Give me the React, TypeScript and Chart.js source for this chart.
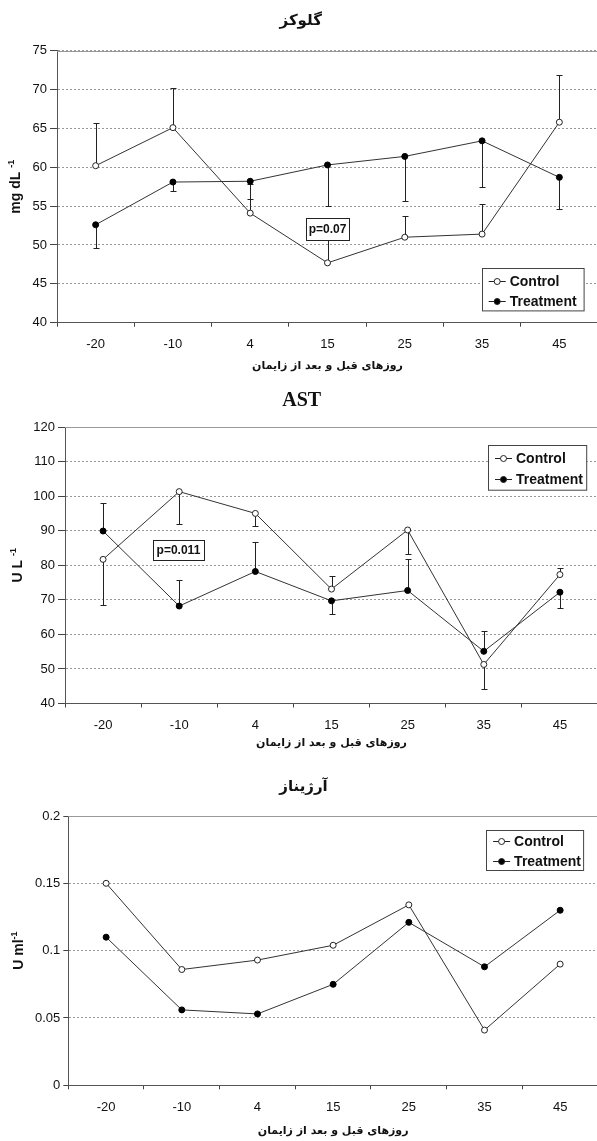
import React, { useEffect, useRef } from "react";
import { Chart, registerables } from "chart.js";
Chart.register(...registerables);

// ---------- data ----------
const days = ["-20", "-10", "4", "15", "25", "35", "45"];

const glucoseControl = [60.2, 65.1, 54.1, 47.7, 51.0, 51.4, 65.8];
const glucoseControlErrEnd = [65.7, 70.2, 57.8, 50.8, 53.7, 55.3, 71.9];
const glucoseTreatment = [52.6, 58.1, 58.2, 60.3, 61.4, 63.4, 58.7];
const glucoseTreatmentErrEnd = [49.6, 56.9, 55.9, 55.0, 55.7, 57.5, 54.6];
const glucoseYTicks = { min: 40, max: 75, step: 5 };

const astControl = [81.7, 101.3, 95.0, 73.1, 90.2, 51.3, 77.3];
const astControlErrEnd = [68.4, 91.8, 91.3, 76.9, 83.2, 44.2, 79.3];
const astTreatment = [89.9, 68.2, 78.2, 69.7, 72.7, 55.1, 72.2];
const astTreatmentErrEnd = [98.0, 75.6, 86.8, 65.9, 81.8, 61.1, 67.5];
const astYTicks = { min: 40, max: 120, step: 10 };

const argControl = [0.15, 0.086, 0.093, 0.104, 0.134, 0.041, 0.09];
const argTreatment = [0.11, 0.056, 0.053, 0.075, 0.121, 0.088, 0.13];
const argYTicks = { min: 0, max: 0.2, step: 0.05 };

const seriesNames = ["Control", "Treatment"];
const xTitle = "روزهای قبل و بعد از زایمان";

const SANS = '"Liberation Sans", Arial, sans-serif';
const FA = '"DejaVu Sans", sans-serif';
const SERIF = '"Liberation Serif", "Times New Roman", serif';
const CW = 603;

type Spec = {
  top: number; height: number; yWidth: number; padTop: number; padBottom: number; padRight: number;
  yr: { min: number; max: number; step: number };
  control: number[]; treatment: number[]; controlErr?: number[]; treatmentErr?: number[];
  title: string; titleFont: string; titleX: number; titleY: number;
  yMain: string; ySup: string; ySpace: boolean; yTitleX: number; xTitleY: number;
  legend: { x: number; y: number; w: number; h: number; r1: number; r2: number };
  pBox?: { idx: number; value: number; text: string; w: number; h: number };
  tickLen: number;
};

const specs: Spec[] = [
  {
    top: 0, height: 380, yWidth: 57, padTop: 50.7, padBottom: 17.3, padRight: 2,
    yr: glucoseYTicks, control: glucoseControl, treatment: glucoseTreatment,
    controlErr: glucoseControlErrEnd, treatmentErr: glucoseTreatmentErrEnd,
    title: "گلوکز", titleFont: `bold 15px ${FA}`, titleX: 300.7, titleY: 21,
    yMain: "mg dL", ySup: "-1", ySpace: true, yTitleX: 15, xTitleY: 366,
    legend: { x: 481.7, y: 268.3, w: 101.6, h: 42.4, r1: 12.4, r2: 32.4 },
    pBox: { idx: 3, value: 52.1, text: "p=0.07", w: 43, h: 22 }, tickLen: 7,
  },
  {
    top: 380, height: 380, yWidth: 65, padTop: 47, padBottom: 16.5, padRight: 2,
    yr: astYTicks, control: astControl, treatment: astTreatment,
    controlErr: astControlErrEnd, treatmentErr: astTreatmentErrEnd,
    title: "AST", titleFont: `bold 20px ${SERIF}`, titleX: 301.7, titleY: 21,
    yMain: "U L", ySup: "-1", ySpace: true, yTitleX: 17, xTitleY: 363,
    legend: { x: 488, y: 65.3, w: 98.2, h: 44.7, r1: 13, r2: 34 },
    pBox: { idx: 0.99, value: 84.5, text: "p=0.011", w: 51, h: 20 }, tickLen: 7,
  },
  {
    top: 760, height: 381, yWidth: 68.3, padTop: 56, padBottom: 15.7, padRight: 0.6,
    yr: argYTicks, control: argControl, treatment: argTreatment,
    title: "آرژیناز", titleFont: `bold 15px ${FA}`, titleX: 303.5, titleY: 27,
    yMain: "U ml", ySup: "-1", ySpace: false, yTitleX: 18, xTitleY: 371,
    legend: { x: 486.1, y: 70, w: 97.1, h: 40, r1: 10.7, r2: 30.7 },
    tickLen: 5,
  },
];

function makeConfig(spec: Spec): any {
  const errPlugin = {
    id: "errbars",
    beforeDatasetsDraw(chart: any) {
      const ctx = chart.ctx;
      const xs = chart.scales.x;
      const ys = chart.scales.y;
      const sets: [number[], number[] | undefined][] = [
        [spec.control, spec.controlErr],
        [spec.treatment, spec.treatmentErr],
      ];
      ctx.save();
      ctx.strokeStyle = "#222";
      ctx.lineWidth = 1;
      for (const [vals, ends] of sets) {
        if (!ends) continue;
        vals.forEach((v, i) => {
          const x = Math.round(xs.getPixelForValue(i)) + 0.5;
          const y0 = ys.getPixelForValue(v);
          const y1 = Math.round(ys.getPixelForValue(ends[i])) + 0.5;
          ctx.beginPath();
          ctx.moveTo(x, y0);
          ctx.lineTo(x, y1);
          ctx.moveTo(x - 3, y1);
          ctx.lineTo(x + 3, y1);
          ctx.stroke();
        });
      }
      ctx.restore();
    },
  };

  const textPlugin = {
    id: "texts",
    beforeDatasetsDraw(chart: any) {
      const ctx = chart.ctx;
      const a = chart.chartArea;
      ctx.save();
      ctx.strokeStyle = "#999";
      ctx.lineWidth = 1;
      ctx.beginPath();
      const yt = Math.round(a.top) + 0.5;
      ctx.moveTo(a.left, yt);
      ctx.lineTo(a.right, yt);
      ctx.stroke();
      ctx.restore();
    },
    afterDraw(chart: any) {
      const ctx = chart.ctx;
      const a = chart.chartArea;
      const xs = chart.scales.x;
      const ys = chart.scales.y;
      ctx.save();
      ctx.fillStyle = "#111";
      ctx.textAlign = "center";
      ctx.textBaseline = "middle";
      // title
      ctx.font = spec.titleFont;
      ctx.fillText(spec.title, spec.titleX, spec.titleY);
      // x title
      ctx.font = `bold 11px ${FA}`;
      ctx.fillText(xTitle, (a.left + a.right) / 2, spec.xTitleY);
      // y title
      ctx.save();
      ctx.translate(spec.yTitleX, (a.top + a.bottom) / 2);
      ctx.rotate(-Math.PI / 2);
      const mainFont = `bold 14px ${SANS}`;
      const supFont = `bold 9px ${SANS}`;
      ctx.font = mainFont;
      const mainText = spec.yMain + (spec.ySpace ? " " : "");
      const w1 = ctx.measureText(mainText).width;
      ctx.font = supFont;
      const w2 = ctx.measureText(spec.ySup).width;
      const start = -(w1 + w2) / 2;
      ctx.textAlign = "left";
      ctx.textBaseline = "alphabetic";
      ctx.font = mainFont;
      ctx.fillText(mainText, start, 5);
      ctx.font = supFont;
      ctx.fillText(spec.ySup, start + w1, -1);
      ctx.restore();
      // p box
      if (spec.pBox) {
        const p = spec.pBox;
        const cx = xs.getPixelForValue(p.idx);
        const cy = ys.getPixelForValue(p.value);
        const bx = Math.round(cx - p.w / 2) + 0.5;
        const by = Math.round(cy - p.h / 2) + 0.5;
        ctx.fillStyle = "#fff";
        ctx.fillRect(bx, by, p.w, p.h);
        ctx.strokeStyle = "#222";
        ctx.lineWidth = 1;
        ctx.strokeRect(bx, by, p.w, p.h);
        ctx.fillStyle = "#111";
        ctx.font = `bold 12px ${SANS}`;
        ctx.textAlign = "center";
        ctx.textBaseline = "middle";
        ctx.fillText(p.text, cx, cy + 1);
      }
      // legend
      const L = spec.legend;
      const lx = Math.round(L.x) + 0.5;
      const ly = Math.round(L.y) + 0.5;
      ctx.fillStyle = "#fff";
      ctx.fillRect(lx, ly, L.w, L.h);
      ctx.strokeStyle = "#444";
      ctx.lineWidth = 1;
      ctx.strokeRect(lx, ly, L.w, L.h);
      const rows = [L.r1, L.r2];
      rows.forEach((r, k) => {
        const y = Math.round(L.y + r) + 0.5;
        ctx.strokeStyle = "#222";
        ctx.beginPath();
        ctx.moveTo(L.x + 7, y);
        ctx.lineTo(L.x + 24, y);
        ctx.stroke();
        ctx.beginPath();
        ctx.arc(L.x + 15.5, y, 3, 0, Math.PI * 2);
        ctx.fillStyle = k === 0 ? "#fff" : "#000";
        ctx.fill();
        ctx.stroke();
        ctx.fillStyle = "#111";
        ctx.font = `bold 14px ${SANS}`;
        ctx.textAlign = "left";
        ctx.textBaseline = "middle";
        ctx.fillText(seriesNames[k], L.x + 28, y + 0.5);
      });
      ctx.restore();
    },
  };

  return {
    type: "line",
    data: {
      labels: days,
      datasets: [
        {
          label: seriesNames[0], data: spec.control, borderColor: "#333", borderWidth: 1,
          pointRadius: 3, pointBackgroundColor: "#fff", pointBorderColor: "#222", pointBorderWidth: 1,
          tension: 0, fill: false,
        },
        {
          label: seriesNames[1], data: spec.treatment, borderColor: "#333", borderWidth: 1,
          pointRadius: 3, pointBackgroundColor: "#000", pointBorderColor: "#000", pointBorderWidth: 1,
          tension: 0, fill: false,
        },
      ],
    },
    options: {
      responsive: false,
      animation: false,
      layout: { padding: { top: spec.padTop, bottom: spec.padBottom, left: 0, right: spec.padRight } },
      plugins: { legend: { display: false }, tooltip: { enabled: false }, title: { display: false } },
      scales: {
        x: {
          type: "category",
          offset: true,
          grid: { display: true, offset: true, drawOnChartArea: false, drawTicks: true, tickLength: 4, color: "#444" },
          border: { display: true, color: "#555", width: 1 },
          ticks: { font: { family: SANS, size: 13 }, color: "#111", padding: 10, maxRotation: 0, autoSkip: false },
          afterFit: (s: any) => { s.height = 40; },
        },
        y: {
          min: spec.yr.min,
          max: spec.yr.max,
          ticks: {
            stepSize: spec.yr.step,
            font: { family: SANS, size: 13 },
            color: "#111",
            padding: 3,
            callback: (v: any) => String(+Number(v).toFixed(3)),
          },
          grid: { color: "#999", lineWidth: 1, drawTicks: true, tickLength: spec.tickLen, tickColor: "#444" },
          border: { display: true, color: "#555", width: 1, dash: [2, 2] },
          afterFit: (s: any) => { s.width = spec.yWidth; },
        },
      },
    },
    plugins: [errPlugin, textPlugin],
  };
}

function Panel({ spec }: { spec: Spec }) {
  const ref = useRef<HTMLCanvasElement>(null);
  useEffect(() => {
    const chart = new Chart(ref.current as HTMLCanvasElement, makeConfig(spec));
    return () => chart.destroy();
  }, [spec]);
  return (
    <div style={{ position: "absolute", left: 0, top: spec.top, width: CW, height: spec.height }}>
      <canvas ref={ref} width={CW} height={spec.height} style={{ display: "block", width: CW, height: spec.height }} />
    </div>
  );
}

export default function App() {
  return (
    <div style={{ position: "absolute", left: 0, top: 0, width: 597, height: 1141, overflow: "hidden", background: "#fff" }}>
      {specs.map((s, i) => (
        <Panel key={i} spec={s} />
      ))}
    </div>
  );
}
